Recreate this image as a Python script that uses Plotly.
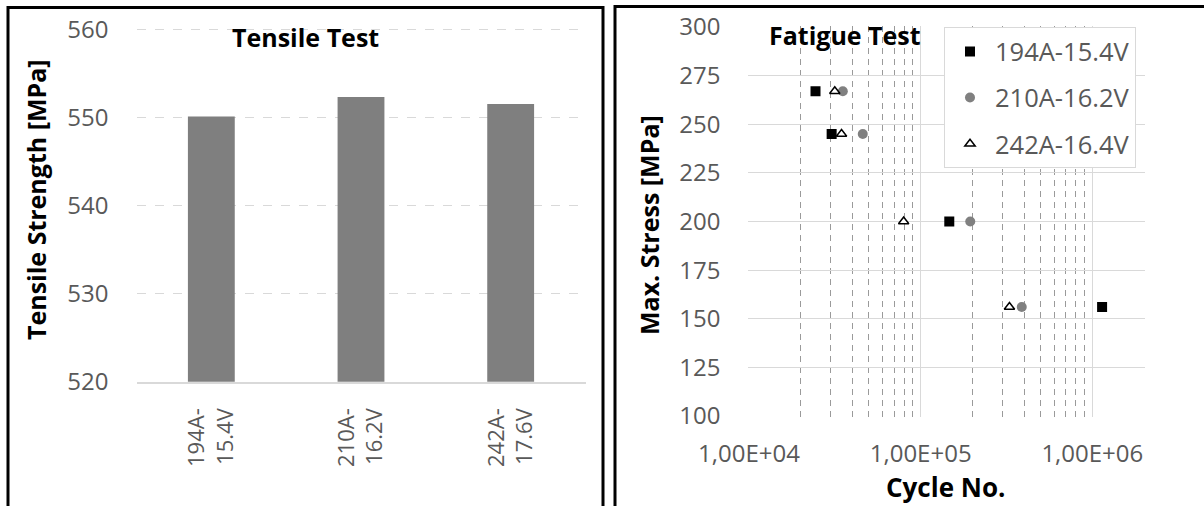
import plotly.graph_objects as go

W, H = 1204, 506

# ---------------- data ----------------
tensile_categories = ["194A-15.4V", "210A-16.2V", "242A-17.6V"]
tensile_strength = [550.1, 552.3, 551.5]

fatigue_series = ["194A-15.4V", "210A-16.2V", "242A-16.4V"]
cycles_194 = [24400, 30300, 146800, 1140000]
stress_194 = [267, 245, 200, 156]
cycles_210 = [35200, 46000, 194500, 388000]
stress_210 = [267, 245, 200, 156]
cycles_242 = [31600, 34600, 79600, 329000]
stress_242 = [267, 245, 200, 156]

fatigue_xtick_vals = [1e4, 1e5, 1e6]
fatigue_xtick_text = ["1,00E+04", "1,00E+05", "1,00E+06"]

FONT = "Open Sans"
TICK_COL = "#595959"
GRID_COL = "#d9d9d9"


def px_x(p):
    return p / W


def px_y(p):
    return 1 - p / H


tick_text_left = [c.replace("-", "-<br>") for c in tensile_categories]

fig = go.Figure()

fig.add_trace(go.Bar(
    x=tensile_categories, y=tensile_strength,
    marker=dict(color="#7f7f7f", line=dict(width=0)),
    xaxis="x", yaxis="y", showlegend=False,
))

markers = [
    dict(symbol="square", size=10, color="#000000"),
    dict(symbol="circle", size=10, color="#808080"),
    dict(symbol="triangle-up", size=9, color="#ffffff",
         line=dict(color="#000000", width=1.5)),
]
xs = [cycles_194, cycles_210, cycles_242]
ys = [stress_194, stress_210, stress_242]
for i, name in enumerate(fatigue_series):
    fig.add_trace(go.Scatter(
        x=xs[i], y=ys[i], mode="markers", name=name,
        marker=markers[i], xaxis="x2", yaxis="y2",
        legendgroup=name,
    ))

minor_vals = [k * 10 ** e for e in (4, 5, 6) for k in range(2, 10) if k * 10 ** e <= 2e6]

# left: 8.81 px per MPa; right: 1.945 px per MPa, 171.7 px per decade
fig.update_layout(
    width=W, height=H,
    margin=dict(l=0, r=0, t=0, b=0),
    paper_bgcolor="white", plot_bgcolor="white",
    font=dict(family=FONT, color=TICK_COL, size=24),
    bargap=0.687,
    xaxis=dict(
        domain=[px_x(136.5), px_x(585.5)], anchor="y",
        tickmode="array", tickvals=tensile_categories, ticktext=tick_text_left,
        tickangle=-90, tickfont=dict(size=22, color=TICK_COL),
        showline=True, linecolor=GRID_COL, linewidth=1.5,
        showgrid=False, ticks="", ticklabelstandoff=16, automargin=False,
    ),
    yaxis=dict(
        domain=[px_y(381.7), px_y(29.2 - 0.3 * 8.81)], anchor="x",
        range=[520, 560.3], tickvals=[520, 530, 540, 550, 560],
        showgrid=True, gridcolor=GRID_COL, griddash="dash", gridwidth=1,
        zeroline=False, showline=False, ticks="",
        tickfont=dict(size=24, color=TICK_COL),
        ticklabelstandoff=27, automargin=False,
    ),
    xaxis2=dict(
        domain=[px_x(749 - 0.003 * 171.7), px_x(1144 + 0.003 * 171.7)],
        anchor="y2", type="log",
        range=[4 - 0.003, 6.30103 + 0.003],
        tickmode="array", tickvals=fatigue_xtick_vals, ticktext=fatigue_xtick_text,
        showgrid=True, gridcolor=GRID_COL, gridwidth=1,
        minor=dict(tickmode="array", tickvals=minor_vals, showgrid=True,
                   gridcolor="#9a9a9a", griddash="6px,5px", gridwidth=1, ticks=""),
        ticks="", showline=False, zeroline=False,
        tickfont=dict(size=24, color=TICK_COL),
        ticklabelstandoff=20, automargin=False,
    ),
    yaxis2=dict(
        domain=[px_y(416 + 0.4 * 1.945), px_y(27 - 0.4 * 1.945)], anchor="x2",
        range=[99.6, 300.4], tickvals=[100, 125, 150, 175, 200, 225, 250, 275, 300],
        showgrid=True, gridcolor=GRID_COL, gridwidth=1,
        zeroline=False, showline=False, ticks="",
        tickfont=dict(size=24, color=TICK_COL),
        ticklabelstandoff=27, automargin=False,
    ),
    legend=dict(
        x=px_x(944), y=px_y(27.3), xanchor="left", yanchor="top",
        bgcolor="white", bordercolor=GRID_COL, borderwidth=1,
        font=dict(size=25.5, color=TICK_COL, family=FONT),
        traceorder="grouped", tracegroupgap=10, itemwidth=40,
    ),
)

ann = [
    dict(text="<b>Tensile Test</b>", x=px_x(305), y=px_y(37), size=25, angle=0),
    dict(text="<b>Fatigue Test</b>", x=px_x(844.6), y=px_y(35), size=25, angle=0),
    dict(text="<b>Tensile Strength [MPa]</b>", x=px_x(36), y=px_y(200), size=25, angle=-90),
    dict(text="<b>Max. Stress [MPa]</b>", x=px_x(649), y=px_y(225), size=25, angle=-90),
    dict(text="<b>Cycle No.</b>", x=px_x(945.7), y=px_y(487), size=26, angle=0),
]
for a in ann:
    fig.add_annotation(
        text=a["text"], x=a["x"], y=a["y"], xref="paper", yref="paper",
        xanchor="center", yanchor="middle", showarrow=False, textangle=a["angle"],
        font=dict(family=FONT, size=a["size"], color="#000000"),
    )

# panel frames
fig.add_shape(type="rect", xref="paper", yref="paper",
              x0=px_x(8), x1=px_x(603), y0=-0.1, y1=px_y(7.5),
              line=dict(color="#000000", width=3), fillcolor="rgba(0,0,0,0)")
fig.add_shape(type="rect", xref="paper", yref="paper",
              x0=px_x(615), x1=1.05, y0=-0.1, y1=px_y(6.5),
              line=dict(color="#000000", width=3), fillcolor="rgba(0,0,0,0)")

fig.write_html(
    "out.html",
    config={"displayModeBar": False},
    post_script="document.body.style.margin='0';document.body.style.overflow='hidden';",
)
